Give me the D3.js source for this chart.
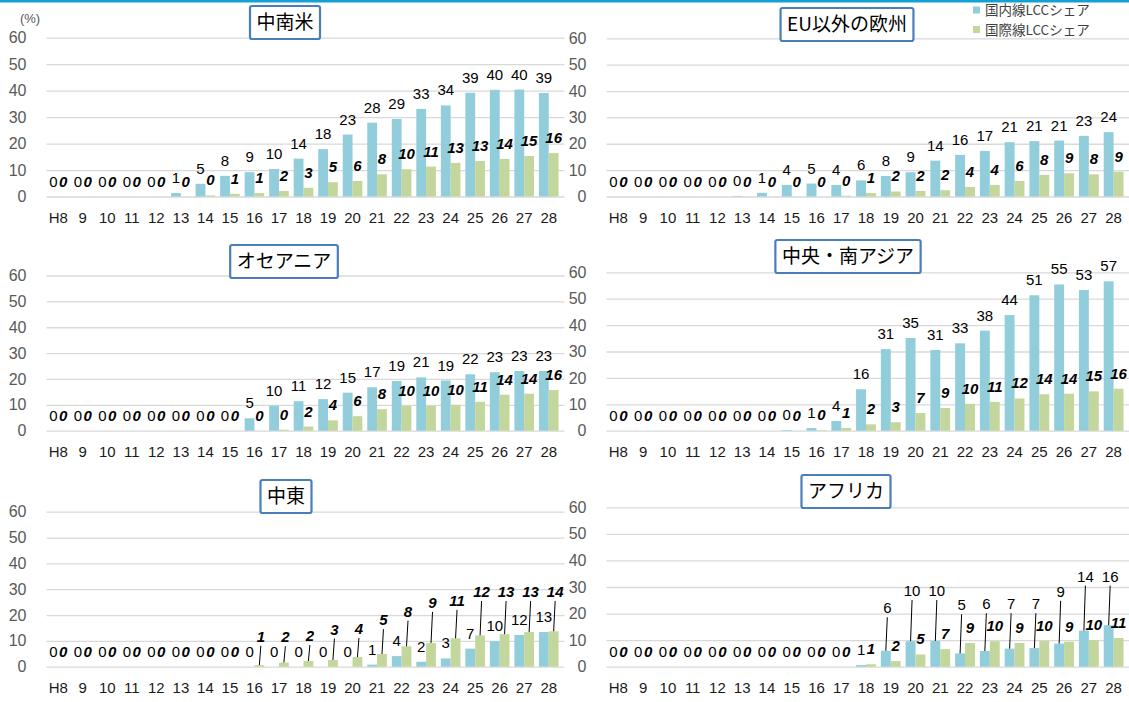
<!DOCTYPE html>
<html>
<head>
<meta charset="utf-8">
<script src="https://cdn.jsdelivr.net/npm/d3@7"></script>
<style>
  html, body { margin: 0; padding: 0; background: #fff; }
  svg { display: block; }
</style>
</head>
<body>
<svg id="chart" width="1129" height="702"></svg>
<script>
// Fiscal years (Heisei) on the category axis
const years = ["H8","9","10","11","12","13","14","15","16","17","18","19","20","21","22","23","24","25","26","27","28"];
const yTicks = [0, 10, 20, 30, 40, 50, 60];
const seriesNames = ["国内線LCCシェア", "国際線LCCシェア"];
const regionTitles = ["中南米", "EU以外の欧州", "オセアニア", "中央・南アジア", "中東", "アフリカ"];

// LCC share (%) by region: domestic / international
const latamDom = [0,0,0,0,0,1.3,4.8,7.8,9.2,10.4,14.3,17.9,23.4,27.9,29.3,33.1,34.4,39.2,40.3,40.4,39.1];
const latamIntl = [0,0,0,0,0,0,0.4,1.0,1.3,2.1,3.3,5.4,5.9,8.4,10.3,11.3,12.7,13.4,14.2,15.3,16.4];
const euDom = [0,0,0,0,0,0.2,1.4,4.4,4.9,4.4,6.1,7.8,9.2,13.6,15.8,17.3,20.6,21.0,21.2,23.0,24.4];
const euIntl = [0,0,0,0,0,0,0,0,0,0.3,1.3,1.9,2.1,2.4,3.6,4.4,5.9,8.2,8.8,8.4,9.4];
const oceDom = [0,0,0,0,0,0,0,0,4.8,9.7,11.4,12.2,14.7,16.8,19.2,20.6,19.4,21.8,22.6,23.1,23.1];
const oceIntl = [0,0,0,0,0,0,0,0,0,0.4,1.6,4.0,5.6,8.3,9.6,9.6,10.0,11.2,13.9,14.3,15.7];
const asiaDom = [0,0,0,0,0,0,0,0.2,1.0,3.7,15.7,30.9,35.1,30.6,33.1,37.9,43.8,51.3,55.4,53.3,56.6];
const asiaIntl = [0,0,0,0,0,0,0,0,0.2,1.0,2.4,3.2,6.7,8.6,10.2,10.9,12.2,13.8,14.0,14.9,15.9];
const meDom = [0,0,0,0,0,0,0,0,0,0,0,0,0,0.8,4.1,1.9,3.2,7.0,9.9,12.3,13.4];
const meIntl = [0,0,0,0,0,0,0,0,0.6,1.6,2.2,2.6,3.7,4.9,7.9,9.2,11.0,12.1,12.6,13.4,13.7];
const afDom = [0,0,0,0,0,0,0,0,0,0,0.6,6.0,9.6,9.7,5.0,5.9,6.8,7.0,8.7,13.6,15.6];
const afIntl = [0,0,0,0,0,0,0,0,0,0,0.9,2.1,4.6,6.6,8.9,9.6,8.9,9.7,9.4,10.0,10.8];

// Raised labels with leader lines (label centre height on the % scale)
const meIntlCallout = [null,null,null,null,null,null,null,null,11.6,11.4,11.9,14.4,14.6,18.0,21.3,24.7,25.5,28.9,28.9,28.9,28.9];
const afDomCallout = [null,null,null,null,null,null,null,null,null,null,null,22.0,28.5,28.5,23.1,23.5,23.5,23.5,28.2,33.9,33.9];

const COLORS = { dom: "#92cddc", intl: "#c3d69b" };
const NUM_FONT = "'Liberation Sans', Arial, sans-serif";
const JP_FONT = "'Noto Sans CJK JP', 'Noto Sans', sans-serif";

const panels = [
  { title: regionTitles[0], dom: latamDom, intl: latamIntl, x0: 46,  x1: 561,  gx1: 563,  y0: 196.5, y60: 37.7,  tcx: 285, ty: 6 },
  { title: regionTitles[1], dom: euDom,    intl: euIntl,    x0: 606, x1: 1126, gx1: 1129, y0: 196.5, y60: 38.3,  tcx: 847, ty: 8 },
  { title: regionTitles[2], dom: oceDom,   intl: oceIntl,   x0: 46,  x1: 561,  gx1: 563,  y0: 430.7, y60: 275.5, tcx: 284, ty: 245 },
  { title: regionTitles[3], dom: asiaDom,  intl: asiaIntl,  x0: 606, x1: 1126, gx1: 1129, y0: 430.7, y60: 272.3, tcx: 848, ty: 240 },
  { title: regionTitles[4], dom: meDom,    intl: meIntl,    x0: 46,  x1: 561,  gx1: 563,  y0: 666.7, y60: 511.7, tcx: 286, ty: 480, intlCallout: meIntlCallout },
  { title: regionTitles[5], dom: afDom,    intl: afIntl,    x0: 606, x1: 1126, gx1: 1129, y0: 666.7, y60: 507.3, tcx: 846, ty: 475, domCallout: afDomCallout }
];

const svg = d3.select("#chart");
const fmt = v => String(Math.round(v));

// top accent rule
svg.append("rect").attr("x", 0).attr("y", 0).attr("width", 1129).attr("height", 2.5).attr("fill", "#14a0d2");

// unit label
svg.append("text").attr("x", 30).attr("y", 23).attr("text-anchor", "middle")
  .attr("font-family", NUM_FONT).attr("font-size", 13).attr("fill", "#595959").text("(%)");

panels.forEach(p => {
  const g = svg.append("g");
  const x = d3.scaleBand().domain(years).range([p.x0, p.x1]).paddingInner(0.2).paddingOuter(0.1);
  const xs = d3.scaleBand().domain(["dom", "intl"]).range([0, x.bandwidth()]);
  const y = d3.scaleLinear().domain([0, 60]).range([p.y0, p.y60]);

  // gridlines + tick labels
  const yAxis = d3.axisLeft(y).tickValues(yTicks).tickSize(-(p.gx1 - p.x0 + 1)).tickPadding(20).tickFormat(d3.format("d"));
  const ag = g.append("g").attr("transform", `translate(${p.x0 + 0.5},0)`).call(yAxis);
  ag.select(".domain").remove();
  ag.selectAll(".tick line").attr("stroke", "#d9d9d9").attr("stroke-width", 1.3);
  ag.selectAll(".tick text").attr("font-family", NUM_FONT).attr("font-size", 16).attr("fill", "#595959");

  // category labels
  const xAxis = d3.axisBottom(x).tickSize(0).tickPadding(16);
  const xg = g.append("g").attr("transform", `translate(0,${p.y0})`).call(xAxis);
  xg.select(".domain").remove();
  xg.selectAll(".tick text").attr("font-family", NUM_FONT).attr("font-size", 15).attr("fill", "#1a1a1a");

  const rows = years.map((yr, i) => ({ yr, i, dom: p.dom[i], intl: p.intl[i] }));

  // bars
  ["dom", "intl"].forEach(key => {
    g.append("g").selectAll("rect").data(rows).join("rect")
      .attr("x", d => x(d.yr) + xs(key))
      .attr("width", xs.bandwidth())
      .attr("y", d => y(d[key]))
      .attr("height", d => y(0) - y(d[key]))
      .attr("fill", COLORS[key]);
  });

  // value labels
  ["dom", "intl"].forEach(key => {
    const callout = key === "dom" ? p.domCallout : p.intlCallout;
    const cx = d => x(d.yr) + xs(key) + xs.bandwidth() / 2;
    const lg = g.append("g");
    rows.forEach(d => {
      const c = callout ? callout[d.i] : null;
      const lx = c != null ? cx(d) + 1.5 : cx(d);
      const ly = c != null ? y(c) + 5 : y(d[key]) - 10;
      if (c != null) {
        lg.append("line")
          .attr("x1", lx).attr("y1", ly + 4)
          .attr("x2", cx(d)).attr("y2", y(d[key]))
          .attr("stroke", "#000").attr("stroke-width", 1);
      }
      lg.append("text")
        .attr("x", lx).attr("y", ly)
        .attr("text-anchor", "middle")
        .attr("font-family", NUM_FONT)
        .attr("font-size", 15)
        .attr("font-weight", key === "intl" ? "bold" : "normal")
        .attr("font-style", key === "intl" ? "italic" : "normal")
        .attr("fill", "#000")
        .text(fmt(d[key]));
    });
  });

  // boxed panel title
  const tg = svg.append("g");
  const tt = tg.append("text")
    .attr("x", p.tcx).attr("y", p.ty + 23)
    .attr("text-anchor", "middle")
    .attr("font-family", JP_FONT).attr("font-size", 19).attr("fill", "#000")
    .text(p.title);
  const w = tt.node().getComputedTextLength() + 13;
  tg.insert("rect", "text")
    .attr("x", p.tcx - w / 2).attr("y", p.ty)
    .attr("width", w).attr("height", 33)
    .attr("rx", 2)
    .attr("fill", "#fff").attr("stroke", "#4a7dbb").attr("stroke-width", 2.2);
});

// legend
const leg = svg.append("g");
seriesNames.forEach((name, i) => {
  const yy = 10 + i * 19.5;
  leg.append("rect").attr("x", 973).attr("y", yy - 3.5).attr("width", 7).attr("height", 7)
    .attr("fill", i === 0 ? COLORS.dom : COLORS.intl);
  leg.append("text").attr("x", 985).attr("y", yy + 5)
    .attr("font-family", JP_FONT).attr("font-size", 13.5).attr("fill", "#404040").text(name);
});
</script>
</body>
</html>
